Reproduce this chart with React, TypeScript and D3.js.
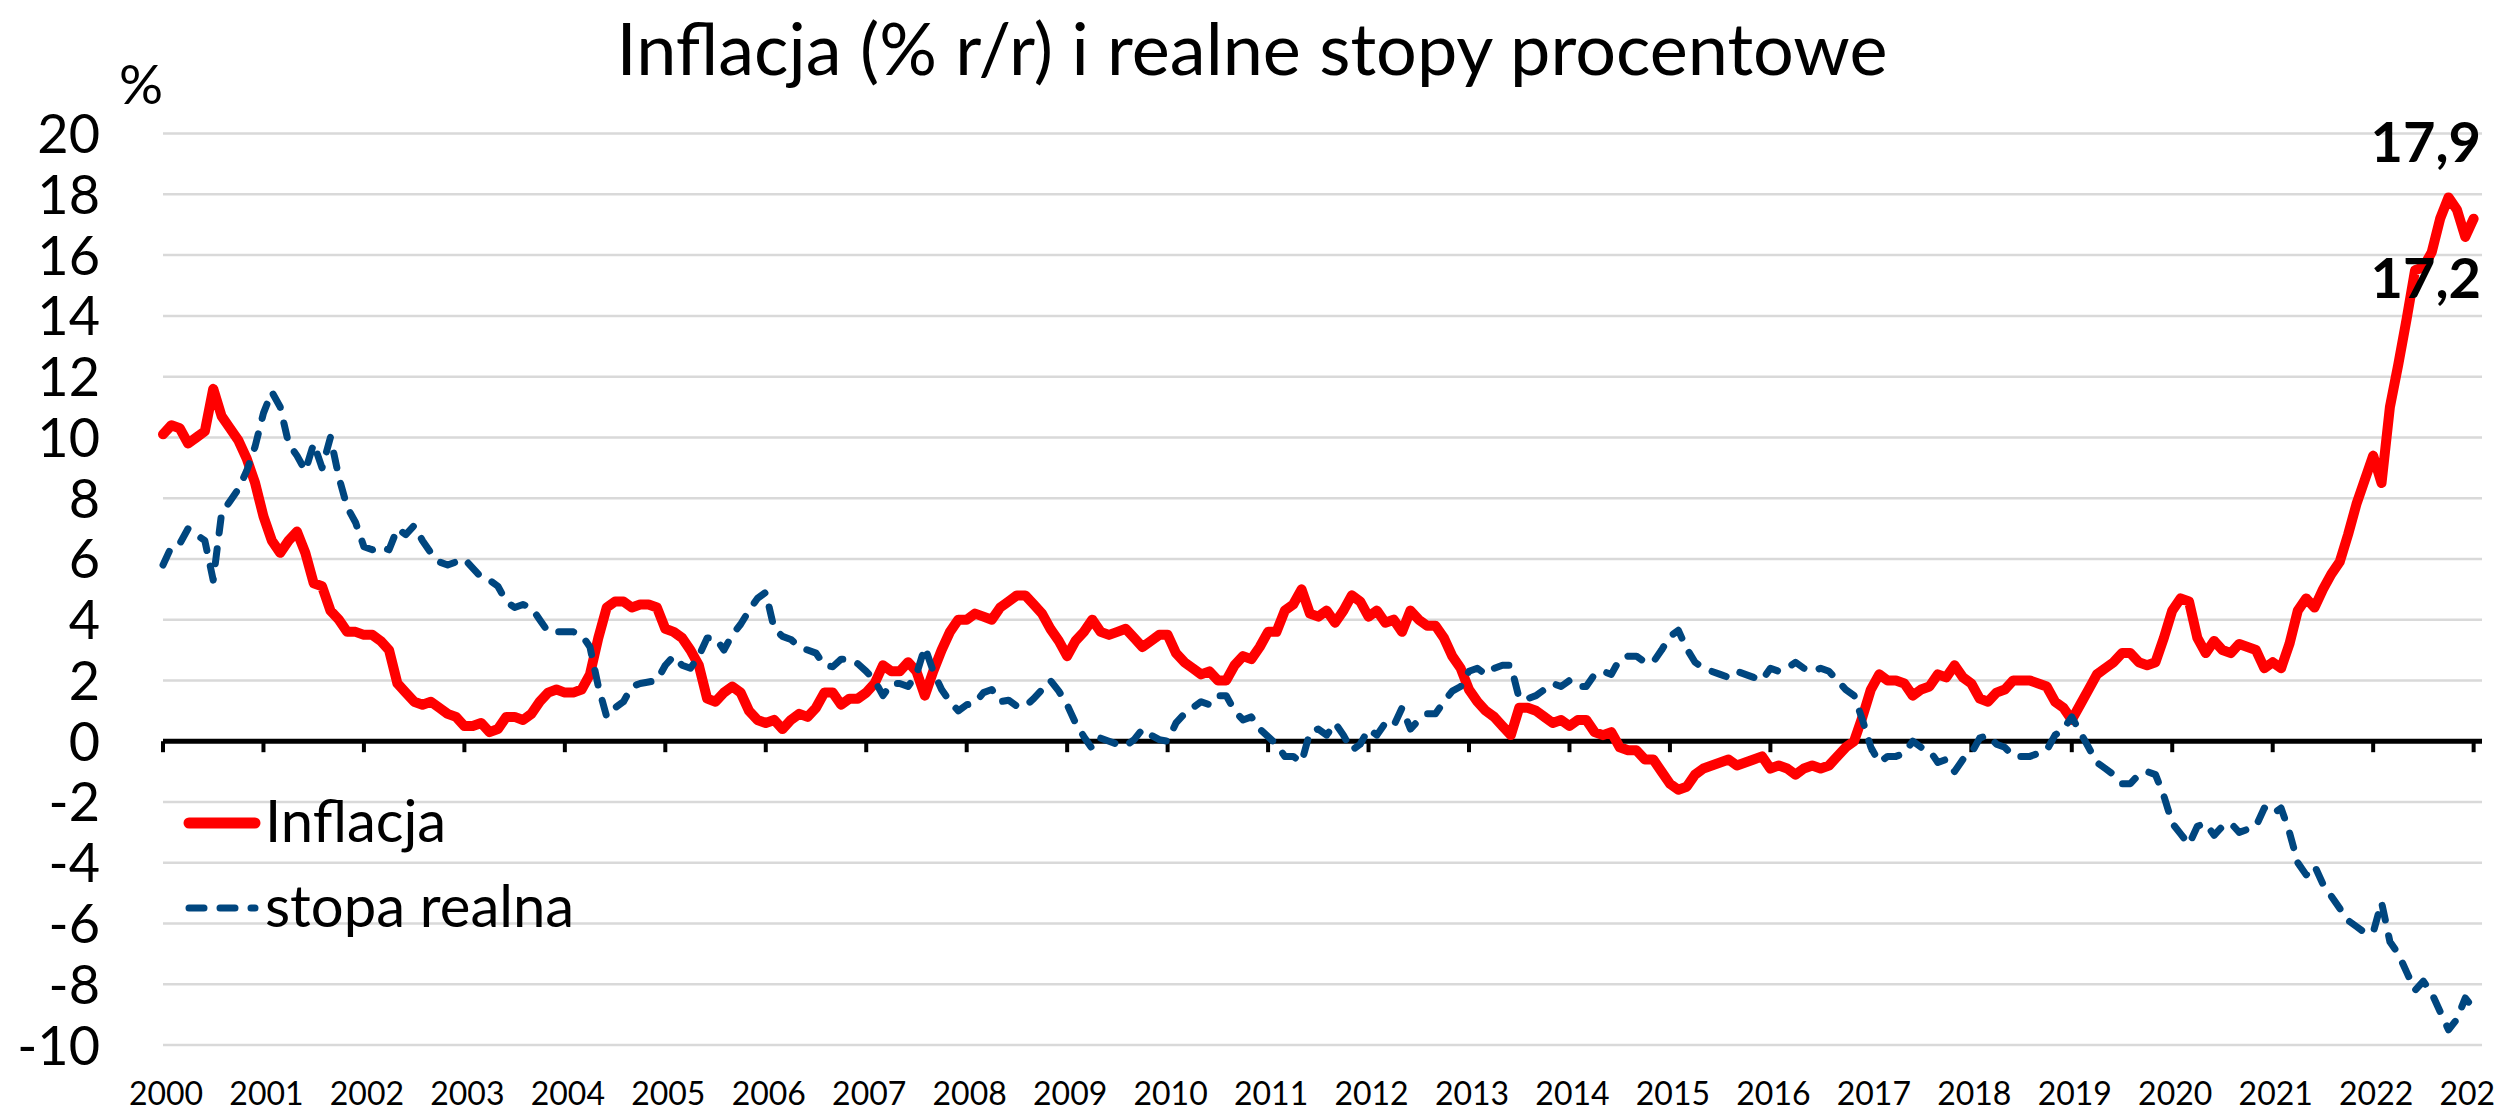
import React, { useEffect, useRef } from "react";
import * as d3 from "d3";

// monthly values, Jan 2000 .. Jan 2023
const inflation = [
  10.1, 10.4, 10.3, 9.8, 10.0, 10.2, 11.6, 10.7, 10.3, 9.9, 9.3, 8.5,
  7.4, 6.6, 6.2, 6.6, 6.9, 6.2, 5.2, 5.1, 4.3, 4.0, 3.6, 3.6,
  3.5, 3.5, 3.3, 3.0, 1.9, 1.6, 1.3, 1.2, 1.3, 1.1, 0.9, 0.8,
  0.5, 0.5, 0.6, 0.3, 0.4, 0.8, 0.8, 0.7, 0.9, 1.3, 1.6, 1.7,
  1.6, 1.6, 1.7, 2.2, 3.4, 4.4, 4.6, 4.6, 4.4, 4.5, 4.5, 4.4,
  3.7, 3.6, 3.4, 3.0, 2.5, 1.4, 1.3, 1.6, 1.8, 1.6, 1.0, 0.7,
  0.6, 0.7, 0.4, 0.7, 0.9, 0.8, 1.1, 1.6, 1.6, 1.2, 1.4, 1.4,
  1.6, 1.9, 2.5, 2.3, 2.3, 2.6, 2.3, 1.5, 2.3, 3.0, 3.6, 4.0,
  4.0, 4.2, 4.1, 4.0, 4.4, 4.6, 4.8, 4.8, 4.5, 4.2, 3.7, 3.3,
  2.8, 3.3, 3.6, 4.0, 3.6, 3.5, 3.6, 3.7, 3.4, 3.1, 3.3, 3.5,
  3.5, 2.9, 2.6, 2.4, 2.2, 2.3, 2.0, 2.0, 2.5, 2.8, 2.7, 3.1,
  3.6, 3.6, 4.3, 4.5, 5.0, 4.2, 4.1, 4.3, 3.9, 4.3, 4.8, 4.6,
  4.1, 4.3, 3.9, 4.0, 3.6, 4.3, 4.0, 3.8, 3.8, 3.4, 2.8, 2.4,
  1.7, 1.3, 1.0, 0.8, 0.5, 0.2, 1.1, 1.1, 1.0, 0.8, 0.6, 0.7,
  0.5, 0.7, 0.7, 0.3, 0.2, 0.3, -0.2, -0.3, -0.3, -0.6, -0.6, -1.0,
  -1.4, -1.6, -1.5, -1.1, -0.9, -0.8, -0.7, -0.6, -0.8, -0.7, -0.6, -0.5,
  -0.9, -0.8, -0.9, -1.1, -0.9, -0.8, -0.9, -0.8, -0.5, -0.2, 0.0, 0.8,
  1.7, 2.2, 2.0, 2.0, 1.9, 1.5, 1.7, 1.8, 2.2, 2.1, 2.5, 2.1,
  1.9, 1.4, 1.3, 1.6, 1.7, 2.0, 2.0, 2.0, 1.9, 1.8, 1.3, 1.1,
  0.7, 1.2, 1.7, 2.2, 2.4, 2.6, 2.9, 2.9, 2.6, 2.5, 2.6, 3.4,
  4.3, 4.7, 4.6, 3.4, 2.9, 3.3, 3.0, 2.9, 3.2, 3.1, 3.0, 2.4,
  2.6, 2.4, 3.2, 4.3, 4.7, 4.4, 5.0, 5.5, 5.9, 6.8, 7.8, 8.6,
  9.4, 8.5, 11.0, 12.4, 13.9, 15.5, 15.6, 16.1, 17.2, 17.9, 17.5, 16.6,
  17.2,
];

const realRate = [
  5.8, 6.4, 6.5, 7.0, 6.8, 6.6, 5.3, 7.5, 7.9, 8.3, 8.9, 9.7,
  10.8, 11.5, 11.0, 9.8, 9.4, 8.9, 9.8, 9.0, 10.0, 8.7, 7.7, 7.2,
  6.4, 6.3, 6.4, 6.3, 7.0, 6.8, 7.1, 6.6, 6.2, 5.9, 5.8, 5.9,
  6.0, 5.7, 5.4, 5.3, 5.1, 4.6, 4.4, 4.5, 4.4, 4.0, 3.6, 3.6,
  3.6, 3.6, 3.5, 3.1, 1.8, 0.8, 1.1, 1.3, 1.8, 1.9, 1.95, 2.0,
  2.5, 2.8, 2.5, 2.4, 2.8, 3.4, 3.4, 3.0, 3.5, 3.85, 4.3, 4.7,
  4.9, 3.7, 3.45, 3.35, 3.1, 3.0, 2.9, 2.5, 2.45, 2.7, 2.7, 2.55,
  2.3, 2.0, 1.5, 1.9, 1.9, 1.8, 2.2, 3.1, 2.3, 1.7, 1.3, 1.0,
  1.2, 1.25, 1.6, 1.7, 1.3, 1.35, 1.15, 1.15, 1.4, 1.7, 2.0, 1.65,
  1.2, 0.6, 0.15, -0.25, 0.1, 0.0, -0.1, -0.15, 0.05, 0.4, 0.2, 0.05,
  0.0, 0.6, 0.9, 1.1, 1.3, 1.2, 1.5, 1.5, 1.0, 0.7, 0.8, 0.4,
  0.15, -0.1, -0.5, -0.5, -0.7, 0.3, 0.4, 0.2, 0.6, 0.2, -0.3, -0.1,
  0.4, 0.2, 0.6, 0.5, 1.1, 0.4, 0.7, 0.9, 0.9, 1.3, 1.65, 1.8,
  2.3, 2.4, 2.2, 2.4, 2.5, 2.5, 1.4, 1.4, 1.5, 1.7, 1.9, 1.8,
  2.0, 1.8, 1.8, 2.2, 2.3, 2.2, 2.7, 2.8, 2.8, 2.6, 2.6, 3.0,
  3.45, 3.65, 3.05, 2.6, 2.4, 2.3, 2.2, 2.1, 2.3, 2.2, 2.1, 2.0,
  2.4, 2.3, 2.4, 2.6, 2.4, 2.3, 2.4, 2.3, 2.0, 1.7, 1.5, 0.7,
  -0.2, -0.7, -0.5, -0.5, -0.4, 0.0, -0.2, -0.3, -0.7, -0.6, -1.0, -0.6,
  -0.4, 0.1, 0.2, -0.1, -0.2, -0.5, -0.5, -0.5, -0.4, -0.3, 0.2, 0.4,
  0.8, 0.3, -0.2, -0.7, -0.9, -1.1, -1.4, -1.4, -1.1, -1.0, -1.1, -1.8,
  -2.7, -3.05, -3.4, -2.8, -2.7, -3.1, -2.8, -2.7, -3.0, -2.9, -2.8, -2.2,
  -2.4, -2.2, -3.0, -4.0, -4.4, -4.1, -4.7, -5.1, -5.5, -5.9, -6.1, -6.3,
  -6.3, -5.3, -6.6, -7.0, -7.6, -8.2, -7.9, -8.3, -8.9, -9.5, -9.15, -8.45,
  -8.8,
];

const yearLabels = [
  "2000", "2001", "2002", "2003", "2004", "2005", "2006", "2007",
  "2008", "2009", "2010", "2011", "2012", "2013", "2014", "2015",
  "2016", "2017", "2018", "2019", "2020", "2021", "2022", "2023",
];
const yTicks = [-10, -8, -6, -4, -2, 0, 2, 4, 6, 8, 10, 12, 14, 16, 18, 20];

// labelled values at the right edge
const callouts = ["17,9", "17,2"];

const FONT = "Lato, 'Open Sans', sans-serif";
const RED = "#ff0000";
const BLUE = "#00467f";

const App = () => {
  const ref = useRef<SVGSVGElement>(null);

  useEffect(() => {
    const svg = d3.select(ref.current);
    svg.selectAll("*").remove();

    const x = d3.scaleLinear().domain([0, inflation.length]).range([163, 2482]);
    const y = d3.scaleLinear().domain([-10, 20]).range([1045, 133.6]);

    // title
    svg.append("text")
      .attr("x", 1252).attr("y", 75)
      .attr("text-anchor", "middle")
      .style("font-family", FONT).style("font-size", "72px")
      .text("Inflacja (% r/r) i realne stopy procentowe");

    svg.append("text")
      .attr("x", 141).attr("y", 104)
      .attr("text-anchor", "middle")
      .style("font-family", FONT).style("font-size", "55px")
      .text("%");

    // grid
    svg.append("g").selectAll("line")
      .data(yTicks)
      .join("line")
      .attr("x1", x(0)).attr("x2", x(inflation.length))
      .attr("y1", (d) => y(d)).attr("y2", (d) => y(d))
      .attr("stroke", "#d9d9d9").attr("stroke-width", 2.5);

    svg.append("g").selectAll("text")
      .data(yTicks)
      .join("text")
      .attr("x", 100).attr("y", (d) => y(d) + 19.5)
      .attr("text-anchor", "end")
      .style("font-family", FONT).style("font-size", "54px")
      .text((d) => String(d));

    // zero axis + year ticks
    svg.append("line")
      .attr("x1", x(0)).attr("x2", x(inflation.length))
      .attr("y1", y(0)).attr("y2", y(0))
      .attr("stroke", "#000").attr("stroke-width", 5);

    svg.append("g").selectAll("line")
      .data(yearLabels)
      .join("line")
      .attr("x1", (d, i) => x(i * 12)).attr("x2", (d, i) => x(i * 12))
      .attr("y1", y(0)).attr("y2", y(0) + 11)
      .attr("stroke", "#000").attr("stroke-width", 4);

    svg.append("g").selectAll("text")
      .data(yearLabels)
      .join("text")
      .attr("x", (d, i) => x(i * 12) + 3).attr("y", 1105)
      .attr("text-anchor", "middle")
      .style("font-family", FONT).style("font-size", "32px")
      .text((d) => d);

    const line = d3.line<number>()
      .x((d, i) => x(i))
      .y((d) => y(d));

    svg.append("path")
      .datum(inflation)
      .attr("d", line)
      .attr("fill", "none")
      .attr("stroke", RED).attr("stroke-width", 10)
      .attr("stroke-linejoin", "round").attr("stroke-linecap", "round");

    svg.append("path")
      .datum(realRate)
      .attr("d", line)
      .attr("fill", "none")
      .attr("stroke", BLUE).attr("stroke-width", 7)
      .attr("stroke-dasharray", "15 16")
      .attr("stroke-linejoin", "round").attr("stroke-linecap", "round");

    // callouts
    svg.append("text")
      .attr("x", 2481).attr("y", 162)
      .attr("text-anchor", "end")
      .style("font-family", FONT).style("font-size", "56px").style("font-weight", "bold")
      .text(callouts[0]);
    svg.append("text")
      .attr("x", 2481).attr("y", 298)
      .attr("text-anchor", "end")
      .style("font-family", FONT).style("font-size", "56px").style("font-weight", "bold")
      .text(callouts[1]);

    // legend
    svg.append("line")
      .attr("x1", 189).attr("x2", 255).attr("y1", 823).attr("y2", 823)
      .attr("stroke", RED).attr("stroke-width", 11).attr("stroke-linecap", "round");
    svg.append("text")
      .attr("x", 265).attr("y", 842)
      .style("font-family", FONT).style("font-size", "58px")
      .text("Inflacja");

    svg.append("line")
      .attr("x1", 189).attr("x2", 255).attr("y1", 908).attr("y2", 908)
      .attr("stroke", BLUE).attr("stroke-width", 7)
      .attr("stroke-dasharray", "15 16").attr("stroke-linecap", "round");
    svg.append("text")
      .attr("x", 265).attr("y", 927)
      .style("font-family", FONT).style("font-size", "58px")
      .text("stopa realna");
  }, []);

  return (
    <div>
      <style>{"body{margin:0}"}</style>
      <svg
        ref={ref}
        width={2495}
        height={1113}
        style={{ display: "block", background: "#fff" }}
      ></svg>
    </div>
  );
};

export default App;
